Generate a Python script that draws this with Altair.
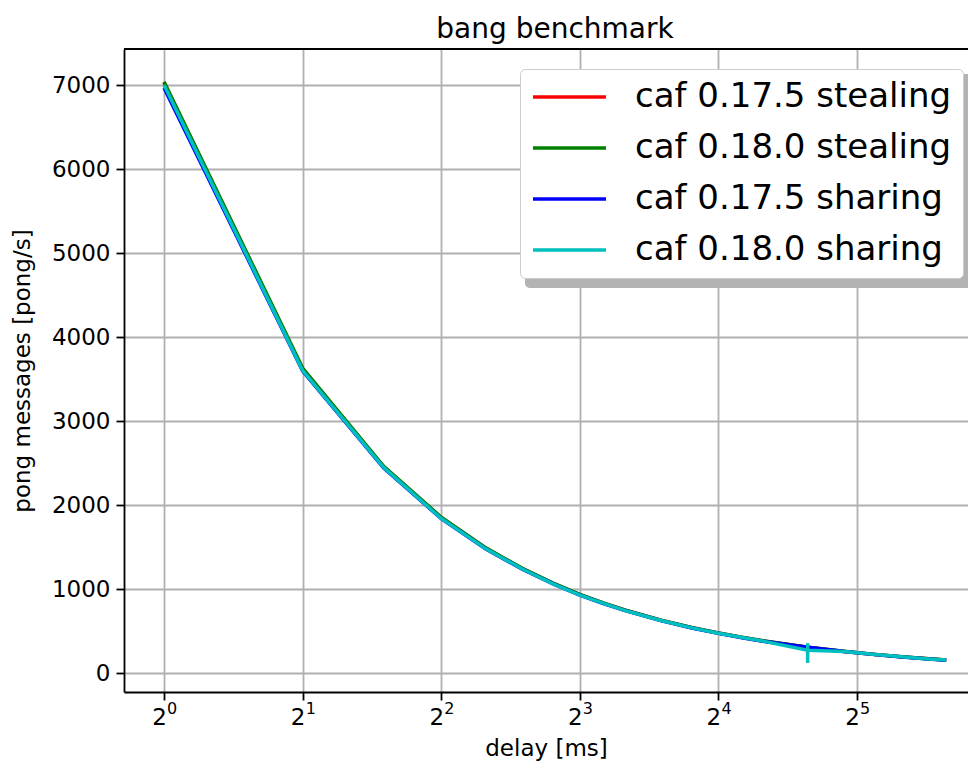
import altair as alt
import pandas as pd

delays = [1, 2, 3, 4, 5, 6, 7, 8, 9, 10, 12, 14, 16, 18, 20, 25, 30, 35, 40, 45, 50]
series_names = ["caf 0.17.5 stealing", "caf 0.18.0 stealing",
                "caf 0.17.5 sharing", "caf 0.18.0 sharing"]
series_colors = ["#ff0000", "#008000", "#0000ff", "#00bfbf"]
red_vals = [7030, 3615, 2455, 1850, 1485, 1243, 1067, 932, 832, 750, 628, 540, 476, 424, 382, 307, 257, 221, 194, 172, 155]
green_vals = [7040, 3630, 2460, 1855, 1490, 1247, 1070, 935, 834, 752, 630, 541, 477, 425, 383, 308, 258, 222, 195, 173, 156]
blue_vals = [6965, 3595, 2440, 1838, 1476, 1236, 1061, 927, 827, 745, 624, 536, 472, 421, 379, 306, 255, 219, 192, 170, 153]
cyan_vals = [7000, 3600, 2445, 1840, 1478, 1238, 1062, 928, 828, 746, 625, 537, 473, 422, 380, 272, 256, 220, 193, 171, 154]
err_delay = [25]
err_low = [120]
err_high = [355]
x_ticks = [1, 2, 4, 8, 16, 32]
x_tick_exponents = ["0", "1", "2", "3", "4", "5"]
y_ticks = [0, 1000, 2000, 3000, 4000, 5000, 6000, 7000]

rows = []
for name, vals in zip(series_names, [red_vals, green_vals, blue_vals, cyan_vals]):
    for d, v in zip(delays, vals):
        rows.append({"delay": d, "rate": v, "series": name})
df = pd.DataFrame(rows)
err_df = pd.DataFrame({"delay": err_delay, "lo": err_low, "hi": err_high})
exp_df = pd.DataFrame({"delay": x_ticks, "exp": x_tick_exponents})

FONT = "DejaVu Sans"
W, H = 844, 643

xscale = alt.Scale(type="log", base=2, domain=[0.8185, 55.75], nice=False, zero=False)
yscale = alt.Scale(domain=[-226, 7429], nice=False, zero=False)

lines = alt.Chart(df).mark_line(strokeWidth=3.5, clip=True).encode(
    x=alt.X("delay:Q", scale=xscale, title="delay [ms]",
            axis=alt.Axis(values=x_ticks, titlePadding=8, labelOffset=-5,
                          labelExpr="'2'")),
    y=alt.Y("rate:Q", scale=yscale, title="pong messages [pong/s]",
            axis=alt.Axis(values=y_ticks, format="d", titleX=-102, titleY=H / 2,
                          titleBaseline="middle", titleAngle=270)),
    color=alt.Color("series:N",
                    scale=alt.Scale(domain=series_names, range=series_colors),
                    sort=series_names,
                    legend=alt.Legend(orient="none", legendX=396, legendY=20, title=None,
                                      symbolType="stroke", symbolSize=5329,
                                      symbolStrokeWidth=3.5, labelFontSize=34,
                                      labelFont=FONT, labelColor="black", labelLimit=600,
                                      clipHeight=34, rowPadding=17, padding=11,
                                      fillColor="white", strokeColor="#cccccc",
                                      cornerRadius=5, labelOffset=27)),
    order=alt.Order("delay:Q"),
)

exps = alt.Chart(exp_df).mark_text(fontSize=16, font=FONT, color="black", align="left",
                                   baseline="alphabetic", dx=3, clip=False).encode(
    x=alt.X("delay:Q", scale=xscale),
    y=alt.value(H + 22),
    text="exp:N",
)

errs = alt.Chart(err_df).mark_rule(strokeWidth=3.5, color="#00bfbf").encode(
    x=alt.X("delay:Q", scale=xscale),
    y=alt.Y("lo:Q", scale=yscale),
    y2="hi:Q",
)

one = pd.DataFrame({"k": [0]})
shadow = alt.Chart(one).mark_rect(color="#b3b3b3", cornerRadius=5).encode(
    x=alt.value(401), x2=alt.value(850), y=alt.value(25), y2=alt.value(239)
)
top_spine = alt.Chart(one).mark_rule(color="black", strokeWidth=1.8).encode(
    x=alt.value(0), x2=alt.value(W), y=alt.value(0)
)

chart = alt.layer(lines, errs, exps, shadow, top_spine).properties(
    width=W, height=H,
    title=alt.Title("bang benchmark", fontSize=28, font=FONT, fontWeight="normal",
                    color="black", offset=4, dx=9),
    autosize=alt.AutoSizeParams(type="none"),
    padding={"left": 116, "top": 41, "right": 0, "bottom": 69},
).configure_view(stroke=None).configure_axis(
    labelFont=FONT, labelFontSize=23, labelColor="black",
    titleFont=FONT, titleFontSize=23, titleFontWeight="normal", titleColor="black",
    domainColor="black", domainWidth=1.8, tickColor="black", tickWidth=1.8, tickSize=8,
    gridColor="#b0b0b0", gridWidth=1.8, labelPadding=6,
)

chart.save("out.html", embed_options={"renderer": "svg", "actions": False})
